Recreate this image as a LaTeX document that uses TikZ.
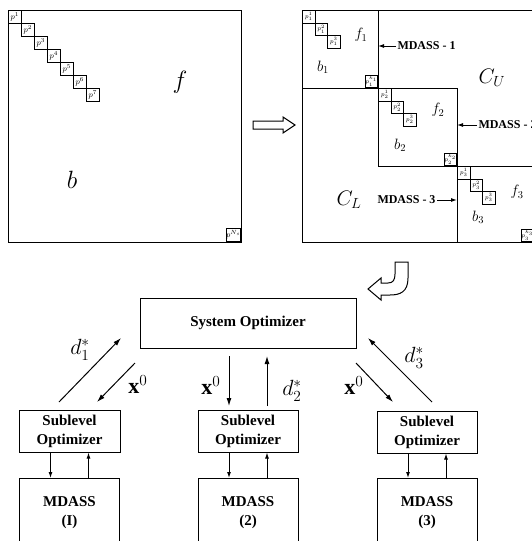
\RequirePackage{fix-cm}
\documentclass[tikz,border=0pt]{standalone}
\usepackage{fontspec}
\setmainfont{Liberation Serif}
\usepackage{tikz}
\usetikzlibrary{arrows.meta}

\tikzset{
	pbox/.style={draw, line width=0.8pt, minimum size=13pt, inner sep=0pt, anchor=north west, font=\fontsize{8}{8}\selectfont},
	pboxr/.style={pbox, minimum size=12.5pt, font=\fontsize{6}{6}\selectfont},
	optbox/.style={draw, line width=1pt, align=center, inner sep=0pt, font=\fontsize{15}{19}\selectfont\bfseries},
	blocklabel/.style={font=\fontsize{15}{15}\selectfont},
	biglabel/.style={font=\fontsize{25}{25}\selectfont},
	tag/.style={font=\fontsize{12}{14}\selectfont\bfseries, inner sep=1pt},
	sig/.style={line width=1pt, -{Latex[length=8pt,width=5pt]}},
	small sig/.style={line width=1pt, -{Latex[length=6pt,width=4pt]}},
	varlabel/.style={font=\fontsize{22}{24}\selectfont}
}

\begin{document}
\begin{tikzpicture}[x=1pt, y=-1pt, line width=1pt]
	\useasboundingbox (0,0) rectangle (532,541);
	
	% left matrix
	\draw (8,10) rectangle (241,242);
	\foreach \i in {1,...,7}
		\node[pbox] (pl\i) at ({8+13*(\i-1)},{10+13*(\i-1)}) {$p^{\i}$};
	\node[pbox, anchor=south east] (plN) at (241,242) {$p^{N_s}$};
	\node[biglabel] (fL) at (180,82) {$f$};
	\node[biglabel] (bL) at (72,180) {$b$};
	
	% hollow arrow
	\draw (253,121) -- (283,121) -- (283,117) -- (295,125) -- (283,133) -- (283,129) -- (253,129) -- cycle;
	
	% right matrix
	\draw (302,10) rectangle (535,242);
	\draw (378,10) -- (378,166);
	\draw (302,88) -- (457,88);
	\draw (378,166) -- (535,166);
	\draw (457,88) -- (457,242);
	
	\foreach \i in {1,2,3}{
		\node[pboxr] (pa\i) at ({302+12.5*(\i-1)},{10+12.5*(\i-1)}) {$p_1^{\i}$};
		\node[pboxr] (pb\i) at ({378+12.5*(\i-1)},{88+12.5*(\i-1)}) {$p_2^{\i}$};
		\node[pboxr] (pc\i) at ({457+12.5*(\i-1)},{166+12.5*(\i-1)}) {$p_3^{\i}$};
	}
	\node[pboxr, anchor=south east] (paK) at (378,88) {$p_1^{k_1}$};
	\node[pboxr, anchor=south east] (pbK) at (457,166) {$p_2^{k_2}$};
	\node[pboxr, anchor=south east] (pcK) at (534,242) {$p_3^{k_3}$};
	
	\node[blocklabel] (f1) at (361,35) {$f_1$};
	\node[blocklabel] (b1) at (323,67) {$b_1$};
	\node[blocklabel] (f2) at (438,110) {$f_2$};
	\node[blocklabel] (b2) at (400,145) {$b_2$};
	\node[blocklabel] (f3) at (517,192) {$f_3$};
	\node[blocklabel] (b3) at (478,217) {$b_3$};
	\node[font=\fontsize{21}{21}\selectfont] (cu) at (492,78) {$C_U$};
	\node[font=\fontsize{21}{21}\selectfont] (cl) at (349,200) {$C_L$};
	
	% subsystem tags
	\coordinate (e1) at (378,46);
	\coordinate (e2) at (457,125);
	\coordinate (e3) at (457,200);
	\node[tag, anchor=west] (t1) at (396,46) {MDASS - 1};
	\node[tag, anchor=west] (t2) at (477,125) {MDASS - 2};
	\node[tag, anchor=east] (t3) at (437,200) {MDASS - 3};
	\draw[small sig] (t1.west) -- (e1);
	\draw[small sig] (t2.west) -- (e2);
	\draw[small sig] (t3.east) -- (e3);
	
	% curved hollow arrow
	\draw (395,262) -- (408,262) -- (408,278) .. controls (408,292) and (400,295) .. (390,295) -- (381,295) -- (381,300) -- (368,289) -- (381,278) -- (381,283) -- (388,283) .. controls (393,283) and (395,280) .. (395,274) -- cycle;
	
	% optimizers
	\node[optbox, minimum width=216pt, minimum height=50pt] (sys) at (248,323) {System Optimizer};
	\node[optbox, minimum width=101pt, minimum height=42pt] (s1) at (69.5,431) {Sublevel\\Optimizer};
	\node[optbox, minimum width=100pt, minimum height=42pt] (s2) at (248,431) {Sublevel\\Optimizer};
	\node[optbox, minimum width=100pt, minimum height=42pt] (s3) at (427,432) {Sublevel\\Optimizer};
	\node[optbox, minimum width=100pt, minimum height=68pt, anchor=north] (m1) at (69.5,478) {MDASS\\(I)};
	\node[optbox, minimum width=100pt, minimum height=68pt, anchor=north] (m2) at (248,478) {MDASS\\(2)};
	\node[optbox, minimum width=100pt, minimum height=68pt, anchor=north] (m3) at (427,478) {MDASS\\(3)};
	
	\foreach \k in {1,2,3}{
		\draw[small sig] ([xshift=-19pt]s\k.south) -- ([xshift=-19pt]m\k.north);
		\draw[small sig] ([xshift=19pt]m\k.north) -- ([xshift=19pt]s\k.south);
	}
	
	% coordination signals
	\coordinate (a1) at (59,402);
	\coordinate (a2) at (121,338);
	\coordinate (a3) at (135,363);
	\coordinate (a4) at (97,402);
	\coordinate (a5) at (229,356);
	\coordinate (a6) at (229,406);
	\coordinate (a7) at (267,406);
	\coordinate (a8) at (267,356);
	\coordinate (a9) at (356,363);
	\coordinate (a10) at (393,402);
	\coordinate (a11) at (432,402);
	\coordinate (a12) at (368,338);
	\draw[sig] (a1) -- (a2);
	\draw[sig] (a3) -- (a4);
	\draw[sig] (a5) -- (a6);
	\draw[sig] (a7) -- (a8);
	\draw[sig] (a9) -- (a10);
	\draw[sig] (a11) -- (a12);
	
	\node[varlabel] (ld1) at (80,350) {$d_1^*$};
	\node[varlabel] (lx1) at (138,385) {$\mathbf{x}^0$};
	\node[varlabel] (lx2) at (211,386) {$\mathbf{x}^0$};
	\node[varlabel] (ld2) at (292,391) {$d_2^*$};
	\node[varlabel] (lx3) at (354,386) {$\mathbf{x}^0$};
	\node[varlabel] (ld3) at (414,358) {$d_3^*$};
	
\end{tikzpicture}
\end{document}
